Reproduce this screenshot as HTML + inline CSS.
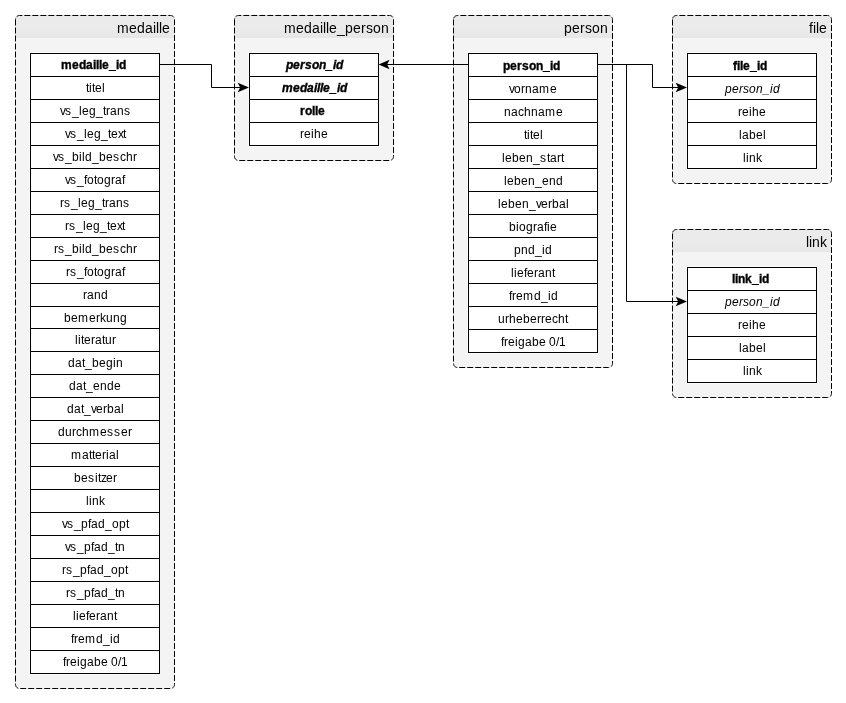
<!DOCTYPE html>
<html><head><meta charset="utf-8"><style>
html,body{margin:0;padding:0;background:#fff;}
svg{display:block;will-change:transform;}
text{font-family:"Liberation Sans",sans-serif;}
.t{font-size:14px;fill:#000;}
.r{font-size:12px;fill:#000;}
.b{font-weight:bold;stroke:#000;stroke-width:0.35px;}
.i{font-style:italic;}
</style></head><body>
<svg width="846" height="703" viewBox="0 0 846 703">
<defs><linearGradient id="hg" x1="0" y1="0" x2="0" y2="1"><stop offset="0" stop-color="#ececec"/><stop offset="1" stop-color="#e6e6e6"/></linearGradient></defs>
<rect x="15" y="15" width="160" height="674" rx="3.5" fill="#f4f4f4"/>
<path d="M18.5,15 H171.5 A3.5,3.5 0 0 1 175,18.5 V38 H15 V18.5 A3.5,3.5 0 0 1 18.5,15 Z" fill="#ebebeb"/>
<rect x="15" y="30" width="160" height="1" fill="#eaeaea"/>
<rect x="15" y="31" width="160" height="1" fill="#eaeaea"/>
<rect x="15" y="32" width="160" height="1" fill="#e9e9e9"/>
<rect x="15" y="33" width="160" height="1" fill="#e9e9e9"/>
<rect x="15" y="34" width="160" height="1" fill="#e8e8e8"/>
<rect x="15" y="35" width="160" height="1" fill="#e8e8e8"/>
<rect x="15" y="36" width="160" height="1" fill="#e7e7e7"/>
<rect x="15" y="37" width="160" height="1" fill="#e7e7e7"/>
<path d="M15.50,19.50 L15.50,25.50 M15.50,27.50 L15.50,33.50 M15.50,35.50 L15.50,41.50 M15.50,43.50 L15.50,49.50 M15.50,51.50 L15.50,57.50 M15.50,59.50 L15.50,65.50 M15.50,67.50 L15.50,73.50 M15.50,75.50 L15.50,81.50 M15.50,83.50 L15.50,89.50 M15.50,91.50 L15.50,97.50 M15.50,99.50 L15.50,105.50 M15.50,107.50 L15.50,113.50 M15.50,115.50 L15.50,121.50 M15.50,123.50 L15.50,129.50 M15.50,131.50 L15.50,137.50 M15.50,139.50 L15.50,145.50 M15.50,147.50 L15.50,153.50 M15.50,155.50 L15.50,161.50 M15.50,163.50 L15.50,169.50 M15.50,171.50 L15.50,177.50 M15.50,179.50 L15.50,185.50 M15.50,187.50 L15.50,193.50 M15.50,195.50 L15.50,201.50 M15.50,203.50 L15.50,209.50 M15.50,211.50 L15.50,217.50 M15.50,219.50 L15.50,225.50 M15.50,227.50 L15.50,233.50 M15.50,235.50 L15.50,241.50 M15.50,243.50 L15.50,249.50 M15.50,251.50 L15.50,257.50 M15.50,259.50 L15.50,265.50 M15.50,267.50 L15.50,273.50 M15.50,275.50 L15.50,281.50 M15.50,283.50 L15.50,289.50 M15.50,291.50 L15.50,297.50 M15.50,299.50 L15.50,305.50 M15.50,307.50 L15.50,313.50 M15.50,315.50 L15.50,321.50 M15.50,323.50 L15.50,329.50 M15.50,331.50 L15.50,337.50 M15.50,339.50 L15.50,345.50 M15.50,347.50 L15.50,353.50 M15.50,355.50 L15.50,361.50 M15.50,363.50 L15.50,369.50 M15.50,371.50 L15.50,377.50 M15.50,379.50 L15.50,385.50 M15.50,387.50 L15.50,393.50 M15.50,395.50 L15.50,401.50 M15.50,403.50 L15.50,409.50 M15.50,411.50 L15.50,417.50 M15.50,419.50 L15.50,425.50 M15.50,427.50 L15.50,433.50 M15.50,435.50 L15.50,441.50 M15.50,443.50 L15.50,449.50 M15.50,451.50 L15.50,457.50 M15.50,459.50 L15.50,465.50 M15.50,467.50 L15.50,473.50 M15.50,475.50 L15.50,481.50 M15.50,483.50 L15.50,489.50 M15.50,491.50 L15.50,497.50 M15.50,499.50 L15.50,505.50 M15.50,507.50 L15.50,513.50 M15.50,515.50 L15.50,521.50 M15.50,523.50 L15.50,529.50 M15.50,531.50 L15.50,537.50 M15.50,539.50 L15.50,545.50 M15.50,547.50 L15.50,553.50 M15.50,555.50 L15.50,561.50 M15.50,563.50 L15.50,569.50 M15.50,571.50 L15.50,577.50 M15.50,579.50 L15.50,585.50 M15.50,587.50 L15.50,593.50 M15.50,595.50 L15.50,601.50 M15.50,603.50 L15.50,609.50 M15.50,611.50 L15.50,617.50 M15.50,619.50 L15.50,625.50 M15.50,627.50 L15.50,633.50 M15.50,635.50 L15.50,641.50 M15.50,643.50 L15.50,649.50 M15.50,651.50 L15.50,657.50 M15.50,659.50 L15.50,665.50 M15.50,667.50 L15.50,673.50 M15.50,675.50 L15.50,681.50 M15.50,683.50 L15.50,684.50 L15.53,685.02 L15.64,685.54 L15.80,686.03 L16.04,686.50 L16.33,686.94 L16.67,687.33 L17.06,687.67 L17.50,687.96 L17.97,688.20 L18.24,688.29 M20.22,688.50 L26.22,688.50 M28.22,688.50 L34.22,688.50 M36.22,688.50 L42.22,688.50 M44.22,688.50 L50.22,688.50 M52.22,688.50 L58.22,688.50 M60.22,688.50 L66.22,688.50 M68.22,688.50 L74.22,688.50 M76.22,688.50 L82.22,688.50 M84.22,688.50 L90.22,688.50 M92.22,688.50 L98.22,688.50 M100.22,688.50 L106.22,688.50 M108.22,688.50 L114.22,688.50 M116.22,688.50 L122.22,688.50 M124.22,688.50 L130.22,688.50 M132.22,688.50 L138.22,688.50 M140.22,688.50 L146.22,688.50 M148.22,688.50 L154.22,688.50 M156.22,688.50 L162.22,688.50 M164.22,688.50 L170.22,688.50 M172.17,688.13 L172.50,687.96 L172.94,687.67 L173.33,687.33 L173.67,686.94 L173.96,686.50 L174.20,686.03 L174.36,685.54 L174.47,685.02 L174.50,684.50 L174.50,683.06 M174.50,681.06 L174.50,675.06 M174.50,673.06 L174.50,667.06 M174.50,665.06 L174.50,659.06 M174.50,657.06 L174.50,651.06 M174.50,649.06 L174.50,643.06 M174.50,641.06 L174.50,635.06 M174.50,633.06 L174.50,627.06 M174.50,625.06 L174.50,619.06 M174.50,617.06 L174.50,611.06 M174.50,609.06 L174.50,603.06 M174.50,601.06 L174.50,595.06 M174.50,593.06 L174.50,587.06 M174.50,585.06 L174.50,579.06 M174.50,577.06 L174.50,571.06 M174.50,569.06 L174.50,563.06 M174.50,561.06 L174.50,555.06 M174.50,553.06 L174.50,547.06 M174.50,545.06 L174.50,539.06 M174.50,537.06 L174.50,531.06 M174.50,529.06 L174.50,523.06 M174.50,521.06 L174.50,515.06 M174.50,513.06 L174.50,507.06 M174.50,505.06 L174.50,499.06 M174.50,497.06 L174.50,491.06 M174.50,489.06 L174.50,483.06 M174.50,481.06 L174.50,475.06 M174.50,473.06 L174.50,467.06 M174.50,465.06 L174.50,459.06 M174.50,457.06 L174.50,451.06 M174.50,449.06 L174.50,443.06 M174.50,441.06 L174.50,435.06 M174.50,433.06 L174.50,427.06 M174.50,425.06 L174.50,419.06 M174.50,417.06 L174.50,411.06 M174.50,409.06 L174.50,403.06 M174.50,401.06 L174.50,395.06 M174.50,393.06 L174.50,387.06 M174.50,385.06 L174.50,379.06 M174.50,377.06 L174.50,371.06 M174.50,369.06 L174.50,363.06 M174.50,361.06 L174.50,355.06 M174.50,353.06 L174.50,347.06 M174.50,345.06 L174.50,339.06 M174.50,337.06 L174.50,331.06 M174.50,329.06 L174.50,323.06 M174.50,321.06 L174.50,315.06 M174.50,313.06 L174.50,307.06 M174.50,305.06 L174.50,299.06 M174.50,297.06 L174.50,291.06 M174.50,289.06 L174.50,283.06 M174.50,281.06 L174.50,275.06 M174.50,273.06 L174.50,267.06 M174.50,265.06 L174.50,259.06 M174.50,257.06 L174.50,251.06 M174.50,249.06 L174.50,243.06 M174.50,241.06 L174.50,235.06 M174.50,233.06 L174.50,227.06 M174.50,225.06 L174.50,219.06 M174.50,217.06 L174.50,211.06 M174.50,209.06 L174.50,203.06 M174.50,201.06 L174.50,195.06 M174.50,193.06 L174.50,187.06 M174.50,185.06 L174.50,179.06 M174.50,177.06 L174.50,171.06 M174.50,169.06 L174.50,163.06 M174.50,161.06 L174.50,155.06 M174.50,153.06 L174.50,147.06 M174.50,145.06 L174.50,139.06 M174.50,137.06 L174.50,131.06 M174.50,129.06 L174.50,123.06 M174.50,121.06 L174.50,115.06 M174.50,113.06 L174.50,107.06 M174.50,105.06 L174.50,99.06 M174.50,97.06 L174.50,91.06 M174.50,89.06 L174.50,83.06 M174.50,81.06 L174.50,75.06 M174.50,73.06 L174.50,67.06 M174.50,65.06 L174.50,59.06 M174.50,57.06 L174.50,51.06 M174.50,49.06 L174.50,43.06 M174.50,41.06 L174.50,35.06 M174.50,33.06 L174.50,27.06 M174.50,25.06 L174.50,19.50 L174.47,19.06 M173.77,17.21 L173.67,17.06 L173.33,16.67 L172.94,16.33 L172.50,16.04 L172.03,15.80 L171.54,15.64 L171.02,15.53 L170.50,15.50 L168.34,15.50 M166.34,15.50 L160.34,15.50 M158.34,15.50 L152.34,15.50 M150.34,15.50 L144.34,15.50 M142.34,15.50 L136.34,15.50 M134.34,15.50 L128.34,15.50 M126.34,15.50 L120.34,15.50 M118.34,15.50 L112.34,15.50 M110.34,15.50 L104.34,15.50 M102.34,15.50 L96.34,15.50 M94.34,15.50 L88.34,15.50 M86.34,15.50 L80.34,15.50 M78.34,15.50 L72.34,15.50 M70.34,15.50 L64.34,15.50 M62.34,15.50 L56.34,15.50 M54.34,15.50 L48.34,15.50 M46.34,15.50 L40.34,15.50 M38.34,15.50 L32.34,15.50 M30.34,15.50 L24.34,15.50 M22.34,15.50 L19.50,15.50 L18.98,15.53 L18.46,15.64 L17.97,15.80 L17.50,16.04 L17.06,16.33 L16.67,16.67 L16.66,16.69 M15.66,18.40 L15.64,18.46 L15.53,18.98 L15.50,19.50" fill="none" stroke="#000"/>
<text x="117.00 129.00 137.00 145.00 153.00 156.00 159.00 162.00" y="33" class="t">medaille</text>
<rect x="29.5" y="52.5" width="130" height="622" fill="#fff"/>
<rect x="30.5" y="53.5" width="129" height="620" fill="#fff" stroke="#000"/>
<text x="61.00 72.00 79.00 86.00 93.00 96.00 99.00 102.00 109.00 116.00 119.00" y="69" class="r b">medaille_id</text>
<line x1="30" y1="76.5" x2="160" y2="76.5" stroke="#000"/>
<text x="86.00 89.00 92.00 95.00 102.00" y="92" class="r">titel</text>
<line x1="30" y1="99.5" x2="160" y2="99.5" stroke="#000"/>
<text x="60.00 65.00 72.00 79.00 82.00 89.00 96.00 103.00 106.00 110.00 117.00 124.00" y="115" class="r">vs_leg_trans</text>
<line x1="30" y1="122.5" x2="160" y2="122.5" stroke="#000"/>
<text x="65.00 70.00 77.00 84.00 87.00 94.00 101.00 108.00 111.00 118.00 123.00" y="138" class="r">vs_leg_text</text>
<line x1="30" y1="145.5" x2="160" y2="145.5" stroke="#000"/>
<text x="53.00 58.00 65.00 72.00 79.00 82.00 85.00 92.00 99.00 106.00 113.00 120.00 126.00 133.00" y="161" class="r">vs_bild_beschr</text>
<line x1="30" y1="168.5" x2="160" y2="168.5" stroke="#000"/>
<text x="65.00 70.00 77.00 84.00 87.00 94.00 97.00 104.00 111.00 115.00 122.00" y="184" class="r">vs_fotograf</text>
<line x1="30" y1="191.5" x2="160" y2="191.5" stroke="#000"/>
<text x="60.00 64.00 71.00 78.00 81.00 88.00 95.00 102.00 105.00 109.00 116.00 123.00" y="207" class="r">rs_leg_trans</text>
<line x1="30" y1="214.5" x2="160" y2="214.5" stroke="#000"/>
<text x="65.00 69.00 76.00 83.00 86.00 93.00 100.00 107.00 110.00 117.00 122.00" y="230" class="r">rs_leg_text</text>
<line x1="30" y1="237.5" x2="160" y2="237.5" stroke="#000"/>
<text x="54.00 58.00 65.00 72.00 79.00 82.00 85.00 92.00 99.00 106.00 113.00 120.00 126.00 133.00" y="253" class="r">rs_bild_beschr</text>
<line x1="30" y1="260.5" x2="160" y2="260.5" stroke="#000"/>
<text x="66.00 70.00 77.00 84.00 87.00 94.00 97.00 104.00 111.00 115.00 122.00" y="276" class="r">rs_fotograf</text>
<line x1="30" y1="283.5" x2="160" y2="283.5" stroke="#000"/>
<text x="83.00 87.00 94.00 101.00" y="299" class="r">rand</text>
<line x1="30" y1="306.5" x2="160" y2="306.5" stroke="#000"/>
<text x="64.00 71.00 78.00 89.00 96.00 100.00 106.00 113.00 120.00" y="322" class="r">bemerkung</text>
<line x1="30" y1="328.5" x2="160" y2="328.5" stroke="#000"/>
<text x="75.00 78.00 81.00 84.00 91.00 95.00 102.00 105.00 112.00" y="344" class="r">literatur</text>
<line x1="30" y1="351.5" x2="160" y2="351.5" stroke="#000"/>
<text x="68.00 75.00 82.00 85.00 92.00 99.00 106.00 113.00 116.00" y="367" class="r">dat_begin</text>
<line x1="30" y1="374.5" x2="160" y2="374.5" stroke="#000"/>
<text x="69.00 76.00 83.00 86.00 93.00 100.00 107.00 114.00" y="390" class="r">dat_ende</text>
<line x1="30" y1="397.5" x2="160" y2="397.5" stroke="#000"/>
<text x="67.00 74.00 81.00 84.00 91.00 96.00 103.00 107.00 114.00 121.00" y="413" class="r">dat_verbal</text>
<line x1="30" y1="420.5" x2="160" y2="420.5" stroke="#000"/>
<text x="58.00 65.00 72.00 76.00 82.00 89.00 100.00 107.00 114.00 121.00 128.00" y="436" class="r">durchmesser</text>
<line x1="30" y1="443.5" x2="160" y2="443.5" stroke="#000"/>
<text x="71.00 82.00 89.00 92.00 95.00 102.00 106.00 109.00 116.00" y="459" class="r">matterial</text>
<line x1="30" y1="466.5" x2="160" y2="466.5" stroke="#000"/>
<text x="74.00 81.00 88.00 95.00 98.00 101.00 106.00 113.00" y="482" class="r">besitzer</text>
<line x1="30" y1="489.5" x2="160" y2="489.5" stroke="#000"/>
<text x="86.00 89.00 92.00 99.00" y="505" class="r">link</text>
<line x1="30" y1="512.5" x2="160" y2="512.5" stroke="#000"/>
<text x="62.00 67.00 74.00 81.00 88.00 91.00 98.00 105.00 112.00 119.00 126.00" y="528" class="r">vs_pfad_opt</text>
<line x1="30" y1="535.5" x2="160" y2="535.5" stroke="#000"/>
<text x="65.00 70.00 77.00 84.00 91.00 94.00 101.00 108.00 115.00 118.00" y="551" class="r">vs_pfad_tn</text>
<line x1="30" y1="558.5" x2="160" y2="558.5" stroke="#000"/>
<text x="62.00 66.00 73.00 80.00 87.00 90.00 97.00 104.00 111.00 118.00 125.00" y="574" class="r">rs_pfad_opt</text>
<line x1="30" y1="581.5" x2="160" y2="581.5" stroke="#000"/>
<text x="66.00 70.00 77.00 84.00 91.00 94.00 101.00 108.00 115.00 118.00" y="597" class="r">rs_pfad_tn</text>
<line x1="30" y1="604.5" x2="160" y2="604.5" stroke="#000"/>
<text x="73.00 76.00 79.00 86.00 89.00 96.00 100.00 107.00 114.00" y="620" class="r">lieferant</text>
<line x1="30" y1="627.5" x2="160" y2="627.5" stroke="#000"/>
<text x="71.00 74.00 78.00 85.00 96.00 103.00 110.00 113.00" y="643" class="r">fremd_id</text>
<line x1="30" y1="650.5" x2="160" y2="650.5" stroke="#000"/>
<text x="63.00 66.00 70.00 77.00 80.00 87.00 94.00 101.00 108.00 111.00 118.00 121.00" y="666" class="r">freigabe 0/1</text>
<rect x="234" y="15" width="160" height="146" rx="3.5" fill="#f4f4f4"/>
<path d="M237.5,15 H390.5 A3.5,3.5 0 0 1 394,18.5 V38 H234 V18.5 A3.5,3.5 0 0 1 237.5,15 Z" fill="#ebebeb"/>
<rect x="234" y="30" width="160" height="1" fill="#eaeaea"/>
<rect x="234" y="31" width="160" height="1" fill="#eaeaea"/>
<rect x="234" y="32" width="160" height="1" fill="#e9e9e9"/>
<rect x="234" y="33" width="160" height="1" fill="#e9e9e9"/>
<rect x="234" y="34" width="160" height="1" fill="#e8e8e8"/>
<rect x="234" y="35" width="160" height="1" fill="#e8e8e8"/>
<rect x="234" y="36" width="160" height="1" fill="#e7e7e7"/>
<rect x="234" y="37" width="160" height="1" fill="#e7e7e7"/>
<path d="M234.50,19.50 L234.50,25.50 M234.50,27.50 L234.50,33.50 M234.50,35.50 L234.50,41.50 M234.50,43.50 L234.50,49.50 M234.50,51.50 L234.50,57.50 M234.50,59.50 L234.50,65.50 M234.50,67.50 L234.50,73.50 M234.50,75.50 L234.50,81.50 M234.50,83.50 L234.50,89.50 M234.50,91.50 L234.50,97.50 M234.50,99.50 L234.50,105.50 M234.50,107.50 L234.50,113.50 M234.50,115.50 L234.50,121.50 M234.50,123.50 L234.50,129.50 M234.50,131.50 L234.50,137.50 M234.50,139.50 L234.50,145.50 M234.50,147.50 L234.50,153.50 M234.50,155.50 L234.50,156.50 L234.53,157.02 L234.64,157.54 L234.80,158.03 L235.04,158.50 L235.33,158.94 L235.67,159.33 L236.06,159.67 L236.50,159.96 L236.97,160.20 L237.24,160.29 M239.22,160.50 L245.22,160.50 M247.22,160.50 L253.22,160.50 M255.22,160.50 L261.22,160.50 M263.22,160.50 L269.22,160.50 M271.22,160.50 L277.22,160.50 M279.22,160.50 L285.22,160.50 M287.22,160.50 L293.22,160.50 M295.22,160.50 L301.22,160.50 M303.22,160.50 L309.22,160.50 M311.22,160.50 L317.22,160.50 M319.22,160.50 L325.22,160.50 M327.22,160.50 L333.22,160.50 M335.22,160.50 L341.22,160.50 M343.22,160.50 L349.22,160.50 M351.22,160.50 L357.22,160.50 M359.22,160.50 L365.22,160.50 M367.22,160.50 L373.22,160.50 M375.22,160.50 L381.22,160.50 M383.22,160.50 L389.22,160.50 M391.17,160.13 L391.50,159.96 L391.94,159.67 L392.33,159.33 L392.67,158.94 L392.96,158.50 L393.20,158.03 L393.36,157.54 L393.47,157.02 L393.50,156.50 L393.50,155.06 M393.50,153.06 L393.50,147.06 M393.50,145.06 L393.50,139.06 M393.50,137.06 L393.50,131.06 M393.50,129.06 L393.50,123.06 M393.50,121.06 L393.50,115.06 M393.50,113.06 L393.50,107.06 M393.50,105.06 L393.50,99.06 M393.50,97.06 L393.50,91.06 M393.50,89.06 L393.50,83.06 M393.50,81.06 L393.50,75.06 M393.50,73.06 L393.50,67.06 M393.50,65.06 L393.50,59.06 M393.50,57.06 L393.50,51.06 M393.50,49.06 L393.50,43.06 M393.50,41.06 L393.50,35.06 M393.50,33.06 L393.50,27.06 M393.50,25.06 L393.50,19.50 L393.47,19.06 M392.77,17.21 L392.67,17.06 L392.33,16.67 L391.94,16.33 L391.50,16.04 L391.03,15.80 L390.54,15.64 L390.02,15.53 L389.50,15.50 L387.34,15.50 M385.34,15.50 L379.34,15.50 M377.34,15.50 L371.34,15.50 M369.34,15.50 L363.34,15.50 M361.34,15.50 L355.34,15.50 M353.34,15.50 L347.34,15.50 M345.34,15.50 L339.34,15.50 M337.34,15.50 L331.34,15.50 M329.34,15.50 L323.34,15.50 M321.34,15.50 L315.34,15.50 M313.34,15.50 L307.34,15.50 M305.34,15.50 L299.34,15.50 M297.34,15.50 L291.34,15.50 M289.34,15.50 L283.34,15.50 M281.34,15.50 L275.34,15.50 M273.34,15.50 L267.34,15.50 M265.34,15.50 L259.34,15.50 M257.34,15.50 L251.34,15.50 M249.34,15.50 L243.34,15.50 M241.34,15.50 L238.50,15.50 L237.98,15.53 L237.46,15.64 L236.97,15.80 L236.50,16.04 L236.06,16.33 L235.67,16.67 L235.66,16.69 M234.66,18.40 L234.64,18.46 L234.53,18.98 L234.50,19.50" fill="none" stroke="#000"/>
<text x="284.00 296.00 304.00 312.00 320.00 323.00 326.00 329.00 337.00 345.00 353.00 361.00 366.00 373.00 381.00" y="33" class="t">medaille_person</text>
<rect x="248.5" y="52.5" width="130" height="94" fill="#fff"/>
<rect x="249.5" y="53.5" width="129" height="92" fill="#fff" stroke="#000"/>
<text x="286.00 293.00 300.00 305.00 312.00 319.00 326.00 333.00 336.00" y="69" class="r b i">person_id</text>
<line x1="249" y1="76.5" x2="379" y2="76.5" stroke="#000"/>
<text x="282.00 293.00 300.00 307.00 314.00 317.00 320.00 323.00 330.00 337.00 340.00" y="92" class="r b i">medaille_id</text>
<line x1="249" y1="99.5" x2="379" y2="99.5" stroke="#000"/>
<text x="300.00 305.00 312.00 315.00 318.00" y="115" class="r b">rolle</text>
<line x1="249" y1="122.5" x2="379" y2="122.5" stroke="#000"/>
<text x="300.00 304.00 311.00 314.00 321.00" y="138" class="r">reihe</text>
<rect x="453" y="15" width="160" height="353" rx="3.5" fill="#f4f4f4"/>
<path d="M456.5,15 H609.5 A3.5,3.5 0 0 1 613,18.5 V38 H453 V18.5 A3.5,3.5 0 0 1 456.5,15 Z" fill="#ebebeb"/>
<rect x="453" y="30" width="160" height="1" fill="#eaeaea"/>
<rect x="453" y="31" width="160" height="1" fill="#eaeaea"/>
<rect x="453" y="32" width="160" height="1" fill="#e9e9e9"/>
<rect x="453" y="33" width="160" height="1" fill="#e9e9e9"/>
<rect x="453" y="34" width="160" height="1" fill="#e8e8e8"/>
<rect x="453" y="35" width="160" height="1" fill="#e8e8e8"/>
<rect x="453" y="36" width="160" height="1" fill="#e7e7e7"/>
<rect x="453" y="37" width="160" height="1" fill="#e7e7e7"/>
<path d="M453.50,19.50 L453.50,25.50 M453.50,27.50 L453.50,33.50 M453.50,35.50 L453.50,41.50 M453.50,43.50 L453.50,49.50 M453.50,51.50 L453.50,57.50 M453.50,59.50 L453.50,65.50 M453.50,67.50 L453.50,73.50 M453.50,75.50 L453.50,81.50 M453.50,83.50 L453.50,89.50 M453.50,91.50 L453.50,97.50 M453.50,99.50 L453.50,105.50 M453.50,107.50 L453.50,113.50 M453.50,115.50 L453.50,121.50 M453.50,123.50 L453.50,129.50 M453.50,131.50 L453.50,137.50 M453.50,139.50 L453.50,145.50 M453.50,147.50 L453.50,153.50 M453.50,155.50 L453.50,161.50 M453.50,163.50 L453.50,169.50 M453.50,171.50 L453.50,177.50 M453.50,179.50 L453.50,185.50 M453.50,187.50 L453.50,193.50 M453.50,195.50 L453.50,201.50 M453.50,203.50 L453.50,209.50 M453.50,211.50 L453.50,217.50 M453.50,219.50 L453.50,225.50 M453.50,227.50 L453.50,233.50 M453.50,235.50 L453.50,241.50 M453.50,243.50 L453.50,249.50 M453.50,251.50 L453.50,257.50 M453.50,259.50 L453.50,265.50 M453.50,267.50 L453.50,273.50 M453.50,275.50 L453.50,281.50 M453.50,283.50 L453.50,289.50 M453.50,291.50 L453.50,297.50 M453.50,299.50 L453.50,305.50 M453.50,307.50 L453.50,313.50 M453.50,315.50 L453.50,321.50 M453.50,323.50 L453.50,329.50 M453.50,331.50 L453.50,337.50 M453.50,339.50 L453.50,345.50 M453.50,347.50 L453.50,353.50 M453.50,355.50 L453.50,361.50 M453.50,363.50 L453.53,364.02 L453.64,364.54 L453.80,365.03 L454.04,365.50 L454.33,365.94 L454.67,366.33 L455.06,366.67 L455.50,366.96 L455.97,367.20 L456.46,367.36 L456.98,367.47 L457.22,367.48 M459.22,367.50 L465.22,367.50 M467.22,367.50 L473.22,367.50 M475.22,367.50 L481.22,367.50 M483.22,367.50 L489.22,367.50 M491.22,367.50 L497.22,367.50 M499.22,367.50 L505.22,367.50 M507.22,367.50 L513.22,367.50 M515.22,367.50 L521.22,367.50 M523.22,367.50 L529.22,367.50 M531.22,367.50 L537.22,367.50 M539.22,367.50 L545.22,367.50 M547.22,367.50 L553.22,367.50 M555.22,367.50 L561.22,367.50 M563.22,367.50 L569.22,367.50 M571.22,367.50 L577.22,367.50 M579.22,367.50 L585.22,367.50 M587.22,367.50 L593.22,367.50 M595.22,367.50 L601.22,367.50 M603.22,367.50 L608.50,367.50 L609.02,367.47 L609.22,367.43 M611.01,366.60 L611.33,366.33 L611.67,365.94 L611.96,365.50 L612.20,365.03 L612.36,364.54 L612.47,364.02 L612.50,363.50 L612.50,361.06 M612.50,359.06 L612.50,353.06 M612.50,351.06 L612.50,345.06 M612.50,343.06 L612.50,337.06 M612.50,335.06 L612.50,329.06 M612.50,327.06 L612.50,321.06 M612.50,319.06 L612.50,313.06 M612.50,311.06 L612.50,305.06 M612.50,303.06 L612.50,297.06 M612.50,295.06 L612.50,289.06 M612.50,287.06 L612.50,281.06 M612.50,279.06 L612.50,273.06 M612.50,271.06 L612.50,265.06 M612.50,263.06 L612.50,257.06 M612.50,255.06 L612.50,249.06 M612.50,247.06 L612.50,241.06 M612.50,239.06 L612.50,233.06 M612.50,231.06 L612.50,225.06 M612.50,223.06 L612.50,217.06 M612.50,215.06 L612.50,209.06 M612.50,207.06 L612.50,201.06 M612.50,199.06 L612.50,193.06 M612.50,191.06 L612.50,185.06 M612.50,183.06 L612.50,177.06 M612.50,175.06 L612.50,169.06 M612.50,167.06 L612.50,161.06 M612.50,159.06 L612.50,153.06 M612.50,151.06 L612.50,145.06 M612.50,143.06 L612.50,137.06 M612.50,135.06 L612.50,129.06 M612.50,127.06 L612.50,121.06 M612.50,119.06 L612.50,113.06 M612.50,111.06 L612.50,105.06 M612.50,103.06 L612.50,97.06 M612.50,95.06 L612.50,89.06 M612.50,87.06 L612.50,81.06 M612.50,79.06 L612.50,73.06 M612.50,71.06 L612.50,65.06 M612.50,63.06 L612.50,57.06 M612.50,55.06 L612.50,49.06 M612.50,47.06 L612.50,41.06 M612.50,39.06 L612.50,33.06 M612.50,31.06 L612.50,25.06 M612.50,23.06 L612.50,19.50 L612.47,18.98 L612.36,18.46 L612.20,17.97 L611.96,17.50 L611.77,17.21 M610.27,15.92 L610.03,15.80 L609.54,15.64 L609.02,15.53 L608.50,15.50 L604.34,15.50 M602.34,15.50 L596.34,15.50 M594.34,15.50 L588.34,15.50 M586.34,15.50 L580.34,15.50 M578.34,15.50 L572.34,15.50 M570.34,15.50 L564.34,15.50 M562.34,15.50 L556.34,15.50 M554.34,15.50 L548.34,15.50 M546.34,15.50 L540.34,15.50 M538.34,15.50 L532.34,15.50 M530.34,15.50 L524.34,15.50 M522.34,15.50 L516.34,15.50 M514.34,15.50 L508.34,15.50 M506.34,15.50 L500.34,15.50 M498.34,15.50 L492.34,15.50 M490.34,15.50 L484.34,15.50 M482.34,15.50 L476.34,15.50 M474.34,15.50 L468.34,15.50 M466.34,15.50 L460.34,15.50 M458.34,15.50 L457.50,15.50 L456.98,15.53 L456.46,15.64 L455.97,15.80 L455.50,16.04 L455.06,16.33 L454.67,16.67 L454.33,17.06 L454.04,17.50 L453.80,17.97 L453.66,18.40" fill="none" stroke="#000"/>
<text x="564.00 572.00 580.00 585.00 592.00 600.00" y="33" class="t">person</text>
<rect x="467.5" y="52.5" width="130" height="301" fill="#fff"/>
<rect x="468.5" y="53.5" width="129" height="299" fill="#fff" stroke="#000"/>
<text x="503.00 510.00 517.00 522.00 529.00 536.00 543.00 550.00 553.00" y="70" class="r b">person_id</text>
<line x1="468" y1="76.5" x2="598" y2="76.5" stroke="#000"/>
<text x="509.00 514.00 521.00 525.00 532.00 539.00 550.00" y="93" class="r">vorname</text>
<line x1="468" y1="99.5" x2="598" y2="99.5" stroke="#000"/>
<text x="504.00 511.00 518.00 524.00 531.00 538.00 545.00 556.00" y="116" class="r">nachname</text>
<line x1="468" y1="122.5" x2="598" y2="122.5" stroke="#000"/>
<text x="524.00 527.00 530.00 533.00 540.00" y="139" class="r">titel</text>
<line x1="468" y1="145.5" x2="598" y2="145.5" stroke="#000"/>
<text x="502.00 505.00 512.00 519.00 526.00 533.00 540.00 547.00 550.00 557.00 561.00" y="162" class="r">leben_start</text>
<line x1="468" y1="168.5" x2="598" y2="168.5" stroke="#000"/>
<text x="504.00 507.00 514.00 521.00 528.00 535.00 542.00 549.00 556.00" y="185" class="r">leben_end</text>
<line x1="468" y1="191.5" x2="598" y2="191.5" stroke="#000"/>
<text x="498.00 501.00 508.00 515.00 522.00 529.00 536.00 541.00 548.00 552.00 559.00 566.00" y="208" class="r">leben_verbal</text>
<line x1="468" y1="214.5" x2="598" y2="214.5" stroke="#000"/>
<text x="509.00 516.00 519.00 526.00 533.00 537.00 544.00 547.00 550.00" y="231" class="r">biografie</text>
<line x1="468" y1="237.5" x2="598" y2="237.5" stroke="#000"/>
<text x="514.00 521.00 528.00 535.00 542.00 545.00" y="254" class="r">pnd_id</text>
<line x1="468" y1="260.5" x2="598" y2="260.5" stroke="#000"/>
<text x="511.00 514.00 517.00 524.00 527.00 534.00 538.00 545.00 552.00" y="277" class="r">lieferant</text>
<line x1="468" y1="283.5" x2="598" y2="283.5" stroke="#000"/>
<text x="509.00 512.00 516.00 523.00 534.00 541.00 548.00 551.00" y="300" class="r">fremd_id</text>
<line x1="468" y1="306.5" x2="598" y2="306.5" stroke="#000"/>
<text x="498.00 505.00 509.00 516.00 523.00 530.00 537.00 541.00 545.00 552.00 558.00 565.00" y="323" class="r">urheberrecht</text>
<line x1="468" y1="329.5" x2="598" y2="329.5" stroke="#000"/>
<text x="501.00 504.00 508.00 515.00 518.00 525.00 532.00 539.00 546.00 549.00 556.00 559.00" y="346" class="r">freigabe 0/1</text>
<rect x="672" y="15" width="160" height="169" rx="3.5" fill="#f4f4f4"/>
<path d="M675.5,15 H828.5 A3.5,3.5 0 0 1 832,18.5 V38 H672 V18.5 A3.5,3.5 0 0 1 675.5,15 Z" fill="#ebebeb"/>
<rect x="672" y="30" width="160" height="1" fill="#eaeaea"/>
<rect x="672" y="31" width="160" height="1" fill="#eaeaea"/>
<rect x="672" y="32" width="160" height="1" fill="#e9e9e9"/>
<rect x="672" y="33" width="160" height="1" fill="#e9e9e9"/>
<rect x="672" y="34" width="160" height="1" fill="#e8e8e8"/>
<rect x="672" y="35" width="160" height="1" fill="#e8e8e8"/>
<rect x="672" y="36" width="160" height="1" fill="#e7e7e7"/>
<rect x="672" y="37" width="160" height="1" fill="#e7e7e7"/>
<path d="M672.50,19.50 L672.50,25.50 M672.50,27.50 L672.50,33.50 M672.50,35.50 L672.50,41.50 M672.50,43.50 L672.50,49.50 M672.50,51.50 L672.50,57.50 M672.50,59.50 L672.50,65.50 M672.50,67.50 L672.50,73.50 M672.50,75.50 L672.50,81.50 M672.50,83.50 L672.50,89.50 M672.50,91.50 L672.50,97.50 M672.50,99.50 L672.50,105.50 M672.50,107.50 L672.50,113.50 M672.50,115.50 L672.50,121.50 M672.50,123.50 L672.50,129.50 M672.50,131.50 L672.50,137.50 M672.50,139.50 L672.50,145.50 M672.50,147.50 L672.50,153.50 M672.50,155.50 L672.50,161.50 M672.50,163.50 L672.50,169.50 M672.50,171.50 L672.50,177.50 M672.50,179.50 L672.53,180.02 L672.64,180.54 L672.80,181.03 L673.04,181.50 L673.33,181.94 L673.67,182.33 L674.06,182.67 L674.50,182.96 L674.97,183.20 L675.46,183.36 L675.98,183.47 L676.22,183.48 M678.22,183.50 L684.22,183.50 M686.22,183.50 L692.22,183.50 M694.22,183.50 L700.22,183.50 M702.22,183.50 L708.22,183.50 M710.22,183.50 L716.22,183.50 M718.22,183.50 L724.22,183.50 M726.22,183.50 L732.22,183.50 M734.22,183.50 L740.22,183.50 M742.22,183.50 L748.22,183.50 M750.22,183.50 L756.22,183.50 M758.22,183.50 L764.22,183.50 M766.22,183.50 L772.22,183.50 M774.22,183.50 L780.22,183.50 M782.22,183.50 L788.22,183.50 M790.22,183.50 L796.22,183.50 M798.22,183.50 L804.22,183.50 M806.22,183.50 L812.22,183.50 M814.22,183.50 L820.22,183.50 M822.22,183.50 L827.50,183.50 L828.02,183.47 L828.22,183.43 M830.01,182.60 L830.33,182.33 L830.67,181.94 L830.96,181.50 L831.20,181.03 L831.36,180.54 L831.47,180.02 L831.50,179.50 L831.50,177.06 M831.50,175.06 L831.50,169.06 M831.50,167.06 L831.50,161.06 M831.50,159.06 L831.50,153.06 M831.50,151.06 L831.50,145.06 M831.50,143.06 L831.50,137.06 M831.50,135.06 L831.50,129.06 M831.50,127.06 L831.50,121.06 M831.50,119.06 L831.50,113.06 M831.50,111.06 L831.50,105.06 M831.50,103.06 L831.50,97.06 M831.50,95.06 L831.50,89.06 M831.50,87.06 L831.50,81.06 M831.50,79.06 L831.50,73.06 M831.50,71.06 L831.50,65.06 M831.50,63.06 L831.50,57.06 M831.50,55.06 L831.50,49.06 M831.50,47.06 L831.50,41.06 M831.50,39.06 L831.50,33.06 M831.50,31.06 L831.50,25.06 M831.50,23.06 L831.50,19.50 L831.47,18.98 L831.36,18.46 L831.20,17.97 L830.96,17.50 L830.77,17.21 M829.27,15.92 L829.03,15.80 L828.54,15.64 L828.02,15.53 L827.50,15.50 L823.34,15.50 M821.34,15.50 L815.34,15.50 M813.34,15.50 L807.34,15.50 M805.34,15.50 L799.34,15.50 M797.34,15.50 L791.34,15.50 M789.34,15.50 L783.34,15.50 M781.34,15.50 L775.34,15.50 M773.34,15.50 L767.34,15.50 M765.34,15.50 L759.34,15.50 M757.34,15.50 L751.34,15.50 M749.34,15.50 L743.34,15.50 M741.34,15.50 L735.34,15.50 M733.34,15.50 L727.34,15.50 M725.34,15.50 L719.34,15.50 M717.34,15.50 L711.34,15.50 M709.34,15.50 L703.34,15.50 M701.34,15.50 L695.34,15.50 M693.34,15.50 L687.34,15.50 M685.34,15.50 L679.34,15.50 M677.34,15.50 L676.50,15.50 L675.98,15.53 L675.46,15.64 L674.97,15.80 L674.50,16.04 L674.06,16.33 L673.67,16.67 L673.33,17.06 L673.04,17.50 L672.80,17.97 L672.66,18.40" fill="none" stroke="#000"/>
<text x="809.00 813.00 816.00 819.00" y="33" class="t">file</text>
<rect x="686.5" y="52.5" width="130" height="117" fill="#fff"/>
<rect x="687.5" y="53.5" width="129" height="115" fill="#fff" stroke="#000"/>
<text x="733.00 737.00 740.00 743.00 750.00 757.00 760.00" y="70" class="r b">file_id</text>
<line x1="687" y1="76.5" x2="817" y2="76.5" stroke="#000"/>
<text x="725.00 732.00 739.00 743.00 749.00 756.00 763.00 770.00 773.00" y="93" class="r i">person_id</text>
<line x1="687" y1="99.5" x2="817" y2="99.5" stroke="#000"/>
<text x="738.00 742.00 749.00 752.00 759.00" y="116" class="r">reihe</text>
<line x1="687" y1="122.5" x2="817" y2="122.5" stroke="#000"/>
<text x="739.00 742.00 749.00 756.00 763.00" y="139" class="r">label</text>
<line x1="687" y1="145.5" x2="817" y2="145.5" stroke="#000"/>
<text x="743.00 746.00 749.00 756.00" y="162" class="r">link</text>
<rect x="672" y="229" width="160" height="169" rx="3.5" fill="#f4f4f4"/>
<path d="M675.5,229 H828.5 A3.5,3.5 0 0 1 832,232.5 V252 H672 V232.5 A3.5,3.5 0 0 1 675.5,229 Z" fill="#ebebeb"/>
<rect x="672" y="244" width="160" height="1" fill="#eaeaea"/>
<rect x="672" y="245" width="160" height="1" fill="#eaeaea"/>
<rect x="672" y="246" width="160" height="1" fill="#e9e9e9"/>
<rect x="672" y="247" width="160" height="1" fill="#e9e9e9"/>
<rect x="672" y="248" width="160" height="1" fill="#e8e8e8"/>
<rect x="672" y="249" width="160" height="1" fill="#e8e8e8"/>
<rect x="672" y="250" width="160" height="1" fill="#e7e7e7"/>
<rect x="672" y="251" width="160" height="1" fill="#e7e7e7"/>
<path d="M672.50,233.50 L672.50,239.50 M672.50,241.50 L672.50,247.50 M672.50,249.50 L672.50,255.50 M672.50,257.50 L672.50,263.50 M672.50,265.50 L672.50,271.50 M672.50,273.50 L672.50,279.50 M672.50,281.50 L672.50,287.50 M672.50,289.50 L672.50,295.50 M672.50,297.50 L672.50,303.50 M672.50,305.50 L672.50,311.50 M672.50,313.50 L672.50,319.50 M672.50,321.50 L672.50,327.50 M672.50,329.50 L672.50,335.50 M672.50,337.50 L672.50,343.50 M672.50,345.50 L672.50,351.50 M672.50,353.50 L672.50,359.50 M672.50,361.50 L672.50,367.50 M672.50,369.50 L672.50,375.50 M672.50,377.50 L672.50,383.50 M672.50,385.50 L672.50,391.50 M672.50,393.50 L672.53,394.02 L672.64,394.54 L672.80,395.03 L673.04,395.50 L673.33,395.94 L673.67,396.33 L674.06,396.67 L674.50,396.96 L674.97,397.20 L675.46,397.36 L675.98,397.47 L676.22,397.48 M678.22,397.50 L684.22,397.50 M686.22,397.50 L692.22,397.50 M694.22,397.50 L700.22,397.50 M702.22,397.50 L708.22,397.50 M710.22,397.50 L716.22,397.50 M718.22,397.50 L724.22,397.50 M726.22,397.50 L732.22,397.50 M734.22,397.50 L740.22,397.50 M742.22,397.50 L748.22,397.50 M750.22,397.50 L756.22,397.50 M758.22,397.50 L764.22,397.50 M766.22,397.50 L772.22,397.50 M774.22,397.50 L780.22,397.50 M782.22,397.50 L788.22,397.50 M790.22,397.50 L796.22,397.50 M798.22,397.50 L804.22,397.50 M806.22,397.50 L812.22,397.50 M814.22,397.50 L820.22,397.50 M822.22,397.50 L827.50,397.50 L828.02,397.47 L828.22,397.43 M830.01,396.60 L830.33,396.33 L830.67,395.94 L830.96,395.50 L831.20,395.03 L831.36,394.54 L831.47,394.02 L831.50,393.50 L831.50,391.06 M831.50,389.06 L831.50,383.06 M831.50,381.06 L831.50,375.06 M831.50,373.06 L831.50,367.06 M831.50,365.06 L831.50,359.06 M831.50,357.06 L831.50,351.06 M831.50,349.06 L831.50,343.06 M831.50,341.06 L831.50,335.06 M831.50,333.06 L831.50,327.06 M831.50,325.06 L831.50,319.06 M831.50,317.06 L831.50,311.06 M831.50,309.06 L831.50,303.06 M831.50,301.06 L831.50,295.06 M831.50,293.06 L831.50,287.06 M831.50,285.06 L831.50,279.06 M831.50,277.06 L831.50,271.06 M831.50,269.06 L831.50,263.06 M831.50,261.06 L831.50,255.06 M831.50,253.06 L831.50,247.06 M831.50,245.06 L831.50,239.06 M831.50,237.06 L831.50,233.50 L831.47,232.98 L831.36,232.46 L831.20,231.97 L830.96,231.50 L830.77,231.21 M829.27,229.92 L829.03,229.80 L828.54,229.64 L828.02,229.53 L827.50,229.50 L823.34,229.50 M821.34,229.50 L815.34,229.50 M813.34,229.50 L807.34,229.50 M805.34,229.50 L799.34,229.50 M797.34,229.50 L791.34,229.50 M789.34,229.50 L783.34,229.50 M781.34,229.50 L775.34,229.50 M773.34,229.50 L767.34,229.50 M765.34,229.50 L759.34,229.50 M757.34,229.50 L751.34,229.50 M749.34,229.50 L743.34,229.50 M741.34,229.50 L735.34,229.50 M733.34,229.50 L727.34,229.50 M725.34,229.50 L719.34,229.50 M717.34,229.50 L711.34,229.50 M709.34,229.50 L703.34,229.50 M701.34,229.50 L695.34,229.50 M693.34,229.50 L687.34,229.50 M685.34,229.50 L679.34,229.50 M677.34,229.50 L676.50,229.50 L675.98,229.53 L675.46,229.64 L674.97,229.80 L674.50,230.04 L674.06,230.33 L673.67,230.67 L673.33,231.06 L673.04,231.50 L672.80,231.97 L672.66,232.40" fill="none" stroke="#000"/>
<text x="806.00 809.00 812.00 820.00" y="247" class="t">link</text>
<rect x="686.5" y="266.5" width="130" height="117" fill="#fff"/>
<rect x="687.5" y="267.5" width="129" height="115" fill="#fff" stroke="#000"/>
<text x="732.00 735.00 738.00 745.00 752.00 759.00 762.00" y="283" class="r b">link_id</text>
<line x1="687" y1="290.5" x2="817" y2="290.5" stroke="#000"/>
<text x="725.00 732.00 739.00 743.00 749.00 756.00 763.00 770.00 773.00" y="306" class="r i">person_id</text>
<line x1="687" y1="313.5" x2="817" y2="313.5" stroke="#000"/>
<text x="738.00 742.00 749.00 752.00 759.00" y="329" class="r">reihe</text>
<line x1="687" y1="336.5" x2="817" y2="336.5" stroke="#000"/>
<text x="739.00 742.00 749.00 756.00 763.00" y="352" class="r">label</text>
<line x1="687" y1="359.5" x2="817" y2="359.5" stroke="#000"/>
<text x="743.00 746.00 749.00 756.00" y="375" class="r">link</text>
<path d="M160,64.5 H211.5 V87.5 H242" fill="none" stroke="#000"/>
<path d="M468,64.5 H385" fill="none" stroke="#000"/>
<path d="M597,64.5 H652.5 V87.5 H680" fill="none" stroke="#000"/>
<path d="M597,64.5 H626.5 V301.5 H680" fill="none" stroke="#000"/>
<path d="M249.0,87.5 L237.7,82.8 L240.2,87.5 L237.7,92.2 Z" fill="#000"/>
<path d="M378.6,64.5 L389.6,59.8 L387.1,64.5 L389.6,69.2 Z" fill="#000"/>
<path d="M687.0,87.5 L675.7,82.8 L678.2,87.5 L675.7,92.2 Z" fill="#000"/>
<path d="M687.0,301.5 L675.7,296.8 L678.2,301.5 L675.7,306.2 Z" fill="#000"/>
</svg>
</body></html>
